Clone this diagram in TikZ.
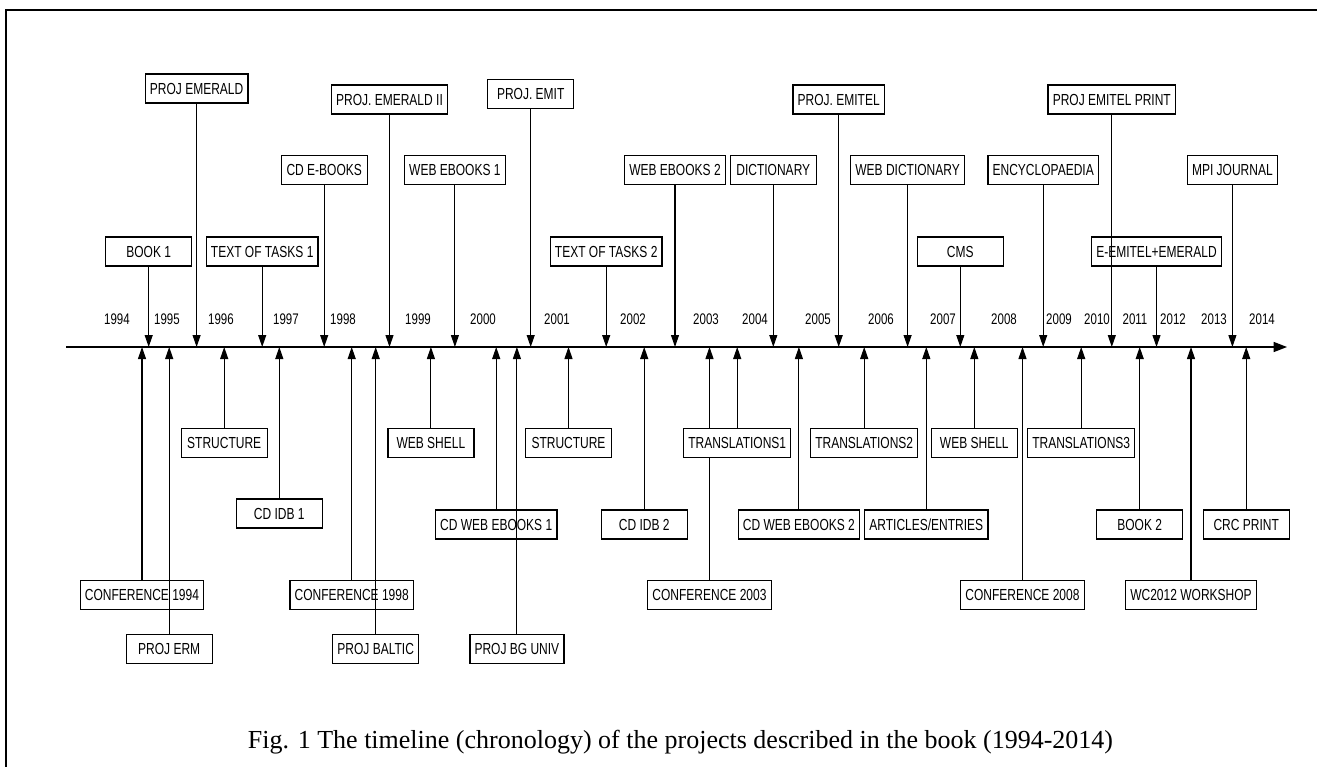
\documentclass[tikz,border=0pt]{standalone}
\usepackage{fontspec}
\setmainfont{Liberation Serif}
\newfontfamily\labelfont[FakeStretch=0.75]{Liberation Sans}
\usepackage{tikz}
\usetikzlibrary{arrows.meta}
\tikzset{
eventbox/.style={rectangle,draw=black,line width=1pt,fill=white,minimum width=64.5pt,minimum height=21.75pt,inner xsep=3.5pt,inner ysep=0pt,align=center,font=\labelfont\fontsize{12}{14}\selectfont},
yearlabel/.style={inner sep=0pt,font=\labelfont\fontsize{11.5}{13}\selectfont},
arrow/.style={-{Triangle[length=9pt,width=6pt]},line width=0.8pt,draw=black},
timeline/.style={-{Triangle[length=10pt,width=7.5pt]},line width=1pt,draw=black},
caption/.style={inner sep=0pt,font=\fontsize{19.5}{23}\selectfont}
}

\begin{document}
\begin{tikzpicture}[x=0.75pt,y=-0.75pt]
\useasboundingbox (0,0) rectangle (1317,767);
% frame
\draw[line width=1.5pt] (6,767) -- (6,10) -- (1317,10);
% axis
\coordinate (tstart) at (66,347);
\coordinate (tend) at (1287,347);
\draw[timeline] (tstart) -- (tend);
\foreach \yr/\xx in {1994/117,1995/167,1996/221,1997/286,1998/343,1999/418,2000/483,2001/557,2002/633,2003/706,2004/755,2005/818,2006/881,2007/943,2008/1004,2009/1059,2010/1097,2011/1135,2012/1173,2013/1214,2014/1262}
  \node[yearlabel] (y\yr) at (\xx,319) {\yr};
% events above the axis
\node[eventbox] (book1) at (148.7,251.5) {BOOK 1};
\node[eventbox] (projemerald) at (196.6,88.5) {PROJ EMERALD};
\node[eventbox] (tasks1) at (262.2,251.5) {TEXT OF TASKS 1};
\node[eventbox] (cdebooks) at (324.2,170) {CD E-BOOKS};
\node[eventbox] (emerald2) at (389.5,99.5) {PROJ. EMERALD II};
\node[eventbox] (webebooks1) at (454.9,170) {WEB EBOOKS 1};
\node[eventbox] (emit) at (530.7,94) {PROJ. EMIT};
\node[eventbox] (tasks2) at (606.2,251.5) {TEXT OF TASKS 2};
\node[eventbox] (webebooks2) at (675,170) {WEB EBOOKS 2};
\node[eventbox] (dictionary) at (773.3,170) {DICTIONARY};
\node[eventbox] (emitel) at (838.7,99.5) {PROJ. EMITEL};
\node[eventbox] (webdict) at (907.6,170) {WEB DICTIONARY};
\node[eventbox] (cms) at (960.3,251.5) {CMS};
\node[eventbox] (encyclo) at (1043.2,170) {ENCYCLOPAEDIA};
\node[eventbox] (emitelprint) at (1111.8,99.5) {PROJ EMITEL PRINT};
\node[eventbox] (eemitel) at (1156.5,251.5) {E-EMITEL+EMERALD};
\node[eventbox] (mpi) at (1232.4,170) {MPI JOURNAL};
% events below the axis
\node[eventbox] (conf1994) at (142,595) {CONFERENCE 1994};
\node[eventbox] (projerm) at (169.2,649) {PROJ ERM};
\node[eventbox] (structure1) at (224.2,443) {STRUCTURE};
\node[eventbox] (cdidb1) at (279.3,513.5) {CD IDB 1};
\node[eventbox] (conf1998) at (351.7,595) {CONFERENCE 1998};
\node[eventbox] (projbaltic) at (375.7,649) {PROJ BALTIC};
\node[eventbox] (webshell1) at (430.9,443) {WEB SHELL};
\node[eventbox] (cdwebebooks1) at (496.2,524.5) {CD WEB EBOOKS 1};
\node[eventbox] (projbg) at (516.9,649) {PROJ BG UNIV};
\node[eventbox] (structure2) at (568.5,443) {STRUCTURE};
\node[eventbox] (cdidb2) at (644.2,524.5) {CD IDB 2};
\node[eventbox] (conf2003) at (709.5,595) {CONFERENCE 2003};
\node[eventbox] (cdwebebooks2) at (798.9,524.5) {CD WEB EBOOKS 2};
\node[eventbox] (trans2) at (864.2,443) {TRANSLATIONS2};
\node[eventbox] (articles) at (926.3,524.5) {ARTICLES/ENTRIES};
\node[eventbox] (webshell2) at (974.3,443) {WEB SHELL};
\node[eventbox] (conf2008) at (1022.5,595) {CONFERENCE 2008};
\node[eventbox] (trans3) at (1081.2,443) {TRANSLATIONS3};
\node[eventbox] (book2) at (1139.7,524.5) {BOOK 2};
\node[eventbox] (wc2012) at (1191,595) {WC2012 WORKSHOP};
\node[eventbox] (crcprint) at (1246.2,524.5) {CRC PRINT};
% arrows to the axis
\foreach \ev in {book1,projemerald,tasks1,cdebooks,emerald2,webebooks1,emit,tasks2,webebooks2,dictionary,emitel,webdict,cms,encyclo,emitelprint,eemitel,mpi,conf1994,projerm,structure1,cdidb1,conf1998,projbaltic,webshell1,cdwebebooks1,projbg,structure2,cdidb2,conf2003,cdwebebooks2,trans2,articles,webshell2,conf2008,trans3,book2,wc2012,crcprint}
  \draw[arrow] (\ev) -- (\ev |- tstart);
% drawn last so it hides the CONFERENCE 2003 line
\node[eventbox] (trans1) at (737.2,443) {TRANSLATIONS1};
\draw[arrow] (trans1) -- (trans1 |- tstart);
\node[caption,anchor=base] (fig) at (680.5,748) {Fig. 1 The timeline (chronology) of the projects described in the book (1994-2014)};
\end{tikzpicture}
\end{document}
